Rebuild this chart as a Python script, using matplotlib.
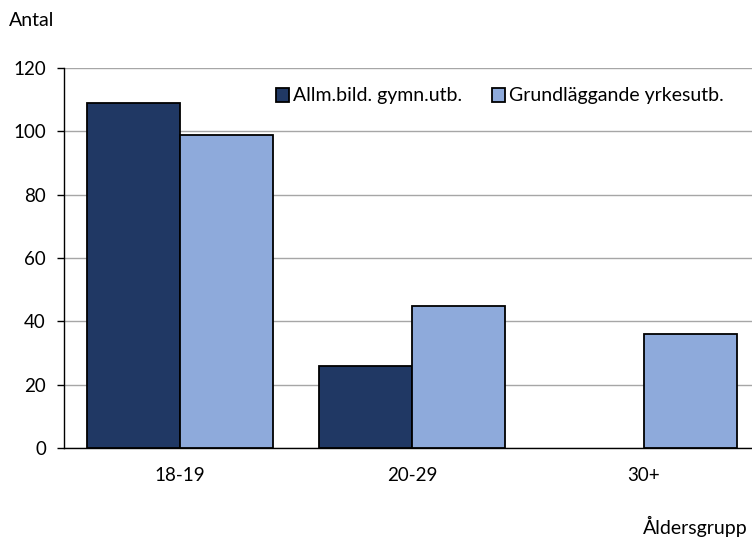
import matplotlib
matplotlib.use("Agg")
import matplotlib.pyplot as plt
import numpy as np

plt.rcParams['font.family'] = ['Lato', 'DejaVu Sans']

categories = ["18-19", "20-29", "30+"]
series_names = ["Allm.bild. gymn.utb.", "Grundläggande yrkesutb."]
allm = [109, 26, 0]
grund = [99, 45, 36]
yticks = [0, 20, 40, 60, 80, 100, 120]

fig = plt.figure(figsize=(7.52, 5.38), dpi=100)
ax = fig.add_axes([64/752, 90/538, 696/752, 380/538])

x = np.arange(len(categories))
w = 0.4
b1 = ax.bar(x - w/2, allm, w, color="#203864", edgecolor="black", linewidth=1.3, label=series_names[0], zorder=3)
b2 = ax.bar(x + w/2, grund, w, color="#8EAADB", edgecolor="black", linewidth=1.3, label=series_names[1], zorder=3)
for bars, vals in ((b1, allm), (b2, grund)):
    for r, v in zip(bars, vals):
        if v == 0:
            r.set_visible(False)

ax.set_xlim(-0.5, 2.5)
ax.set_ylim(0, 120)
ax.set_yticks(yticks)
ax.set_xticks(x)
ax.set_xticklabels(categories)
ax.tick_params(axis='x', length=0, pad=14, labelsize=13.5)
ax.tick_params(axis='y', length=5, width=1, pad=8, labelsize=13.5, direction='out')
ax.yaxis.grid(True, color="#A6A6A6", linewidth=1, zorder=0)
ax.set_axisbelow(True)
for s in ["top", "right"]:
    ax.spines[s].set_visible(False)
ax.spines["left"].set_linewidth(1)
ax.spines["bottom"].set_linewidth(1)

leg = ax.legend(loc="center left", bbox_to_anchor=(204/696, 1 - 28/380), ncol=2, frameon=False,
                fontsize=14, handlelength=0.7, handleheight=0.7, handletextpad=0.2,
                columnspacing=1.5, borderaxespad=0)

fig.text(9/752, 1 - 21/538, "Antal", fontsize=14, va="center", ha="left")
fig.text(1 - 4/752, 1 - 526/538, "Åldersgrupp", fontsize=14, va="center", ha="right")

fig.savefig("out.png", dpi=100)
